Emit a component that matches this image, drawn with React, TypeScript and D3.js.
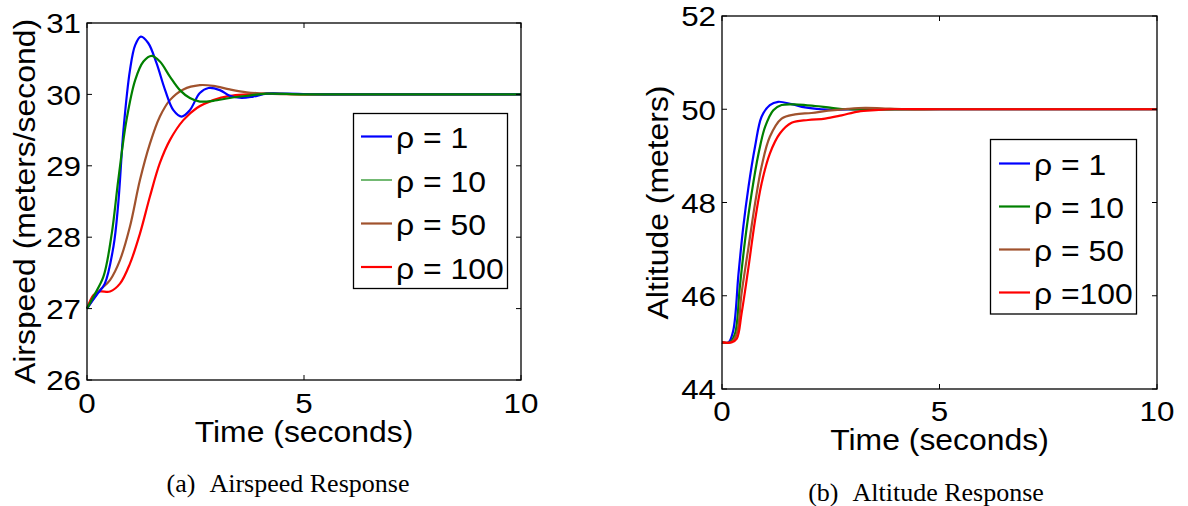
import * as d3 from 'd3';

// ---- data ----
const rhoLabelsA = ['ρ = 1', 'ρ = 10', 'ρ = 50', 'ρ = 100'];
const rhoLabelsB = ['ρ = 1', 'ρ = 10', 'ρ = 50', 'ρ =100'];
const seriesColors = ['#0000ff', '#008000', '#a0522d', '#ff0000'];

const timeTicks = [0, 5, 10];
const airspeedTicks = [26, 27, 28, 29, 30, 31];
const altitudeTicks = [44, 46, 48, 50, 52];

// airspeed response (m/s)
const airT1 = [0, 0.22, 0.41, 0.61, 0.72, 0.84, 0.99, 1.11, 1.24, 1.41, 1.6, 1.8, 1.99, 2.18, 2.37, 2.6, 2.8, 3.06, 3.29, 3.56, 3.83, 4.14, 4.6, 5.5, 7, 10];
const airV1 = [27, 27.19, 27.35, 27.87, 28.47, 29.5, 30.34, 30.69, 30.81, 30.72, 30.44, 30.06, 29.78, 29.69, 29.78, 30.02, 30.09, 30.06, 29.98, 29.95, 29.97, 30.01, 30.01, 30, 30, 30];
const airT10 = [0, 0.15, 0.38, 0.57, 0.72, 0.91, 1.11, 1.3, 1.49, 1.68, 1.91, 2.14, 2.37, 2.6, 2.91, 3.29, 3.68, 4.14, 5, 7, 10];
const airV10 = [27, 27.17, 27.45, 28.05, 28.8, 29.64, 30.2, 30.46, 30.54, 30.46, 30.25, 30.06, 29.95, 29.9, 29.91, 29.95, 29.98, 30.01, 30, 30, 30];
const airT50 = [0, 0.15, 0.3, 0.53, 0.76, 0.99, 1.22, 1.45, 1.68, 1.91, 2.22, 2.6, 2.91, 3.29, 3.68, 4.14, 5, 7, 10];
const airV50 = [27, 27.14, 27.26, 27.4, 27.68, 28.15, 28.8, 29.31, 29.69, 29.92, 30.07, 30.13, 30.12, 30.07, 30.03, 30.01, 30, 30, 30];
const airT100 = [0, 0.15, 0.3, 0.53, 0.76, 0.99, 1.22, 1.45, 1.68, 1.91, 2.22, 2.53, 2.91, 3.29, 3.68, 4.2, 5, 7, 10];
const airV100 = [27, 27.19, 27.24, 27.24, 27.35, 27.63, 28.05, 28.57, 29.04, 29.36, 29.64, 29.81, 29.92, 29.98, 30, 30.01, 30, 30, 30];

// altitude response (m)
const altT1 = [0, 0.15, 0.26, 0.38, 0.49, 0.61, 0.76, 0.91, 1.1, 1.29, 1.6, 1.91, 2.29, 2.6, 3.2, 5, 10];
const altV1 = [45, 45, 45.26, 46.48, 47.48, 48.34, 49.2, 49.84, 50.09, 50.16, 50.11, 50.04, 50, 49.99, 50, 50, 50];
const altT10 = [0, 0.18, 0.3, 0.41, 0.53, 0.68, 0.84, 0.99, 1.18, 1.37, 1.75, 2.14, 2.52, 2.9, 5, 10];
const altV10 = [45, 45, 45.19, 46.19, 47.19, 48.19, 49.05, 49.62, 49.98, 50.09, 50.1, 50.07, 50.03, 50, 50, 50];
const altT50 = [0, 0.22, 0.34, 0.45, 0.61, 0.76, 0.91, 1.1, 1.37, 1.68, 2.06, 2.44, 2.9, 3.29, 3.67, 4.2, 5, 10];
const altV50 = [45, 45.01, 45.19, 46.05, 47.05, 47.98, 48.77, 49.41, 49.8, 49.89, 49.92, 49.97, 50.01, 50.03, 50.02, 50, 50, 50];
const altT100 = [0, 0.22, 0.34, 0.45, 0.61, 0.76, 0.91, 1.1, 1.33, 1.6, 1.98, 2.37, 2.75, 3.13, 3.52, 3.97, 5, 10];
const altV100 = [45, 45, 45.08, 45.62, 46.62, 47.62, 48.41, 49.05, 49.48, 49.71, 49.77, 49.8, 49.87, 49.95, 49.98, 50, 50, 50];

const FONT = '"Liberation Sans", Arial, Helvetica, sans-serif';
const SX = 1.1; // plot text in the figure is slightly stretched sideways

type Pt = [number, number];
const zip = (t: number[], v: number[]): Pt[] => t.map((d, i) => [d, v[i]]);

// stretched text helper
const T = ({ x, y, rot = 0, size, anchor = 'middle', dy = 0, children }: any) => (
  <text
    transform={`translate(${x},${y}) rotate(${rot}) scale(${SX},1)`}
    fontFamily={FONT}
    fontSize={size}
    textAnchor={anchor}
    dy={dy}
    fill="#000"
  >
    {children}
  </text>
);

const Panel = (p: any) => {
  const { left, right, top, bottom, yDomain, yTicks, series, order, labels, legend, yLabel, yLabelX, xTickBase, legendThin } = p;
  const x = d3.scaleLinear().domain([0, 10]).range([left, right]);
  const y = d3.scaleLinear().domain(yDomain).range([bottom, top]);
  const line = d3.line<Pt>().x(d => x(d[0])).y(d => y(d[1])).curve(d3.curveCatmullRom.alpha(0.5));
  const tk = 5;
  const cx = (left + right) / 2;
  return (
    <g>
      {order.map((i: number) => (
        <path key={i} d={line(series[i]) || ''} fill="none" stroke={seriesColors[i]} strokeWidth={2.2} strokeLinejoin="round" />
      ))}
      <rect x={left} y={top} width={right - left} height={bottom - top} fill="none" stroke="#000" strokeWidth={1.3} />
      {timeTicks.map(t => (
        <g key={'x' + t}>
          <line x1={x(t)} x2={x(t)} y1={bottom} y2={bottom - tk} stroke="#000" />
          <line x1={x(t)} x2={x(t)} y1={top} y2={top + tk} stroke="#000" />
          <T x={x(t)} y={xTickBase} size={28.5}>{t}</T>
        </g>
      ))}
      {yTicks.map((v: number) => (
        <g key={'y' + v}>
          <line x1={left} x2={left + tk} y1={y(v)} y2={y(v)} stroke="#000" />
          <line x1={right} x2={right - tk} y1={y(v)} y2={y(v)} stroke="#000" />
          <T x={left - 6} y={y(v)} size={28.5} anchor="end" dy="0.36em">{v}</T>
        </g>
      ))}
      <T x={cx} y={xTickBase + 29} size={29}>Time (seconds)</T>
      <T x={yLabelX} y={(top + bottom) / 2} rot={-90} size={29}>{yLabel}</T>
      <rect x={legend.x0} y={legend.y0} width={legend.x1 - legend.x0} height={legend.y1 - legend.y0} fill="#fff" stroke="#000" strokeWidth={1.3} />
      {labels.map((lab: string, i: number) => {
        const ly = legend.rowY + i * legend.rowGap;
        return (
          <g key={lab}>
            <line x1={legend.lx0} x2={legend.lx1} y1={ly} y2={ly} stroke={seriesColors[i]} strokeWidth={legendThin && i === 1 ? 1.1 : 2.2} />
            <T x={legend.lx1 + 4} y={ly + 11.5} size={29} anchor="start">{lab}</T>
          </g>
        );
      })}
    </g>
  );
};

export default function App() {
  const airSeries = [zip(airT1, airV1), zip(airT10, airV10), zip(airT50, airV50), zip(airT100, airV100)];
  const altSeries = [zip(altT1, altV1), zip(altT10, altV10), zip(altT50, altV50), zip(altT100, altV100)];
  return (
    <svg width={1188} height={506} style={{ position: 'absolute', left: 0, top: 0, background: '#fff' }}>
      <rect width={1188} height={506} fill="#fff" />
      <Panel
        left={87} right={521} top={23} bottom={380}
        yDomain={[26, 31]} yTicks={airspeedTicks}
        series={airSeries} order={[3, 2, 0, 1]} labels={rhoLabelsA}
        yLabel="Airspeed (meters/second)" yLabelX={35} xTickBase={413} legendThin
        legend={{ x0: 353.5, y0: 113.5, x1: 507.5, y1: 288.5, rowY: 136.5, rowGap: 43.5, lx0: 361, lx1: 392 }}
      />
      <Panel
        left={722} right={1157} top={16} bottom={389}
        yDomain={[44, 52]} yTicks={altitudeTicks}
        series={altSeries} order={[0, 1, 2, 3]} labels={rhoLabelsB}
        yLabel="Altitude (meters)" yLabelX={668} xTickBase={421}
        legend={{ x0: 990.5, y0: 139.5, x1: 1136.5, y1: 314, rowY: 163.5, rowGap: 43, lx0: 999, lx1: 1030 }}
      />
      <text x={288} y={492} textAnchor="middle" fontFamily='"Liberation Serif", "Times New Roman", serif' fontSize={26}>
        (a)<tspan dx={14}>Airspeed Response</tspan>
      </text>
      <text x={926} y={501} textAnchor="middle" fontFamily='"Liberation Serif", "Times New Roman", serif' fontSize={26}>
        (b)<tspan dx={14}>Altitude Response</tspan>
      </text>
    </svg>
  );
}
